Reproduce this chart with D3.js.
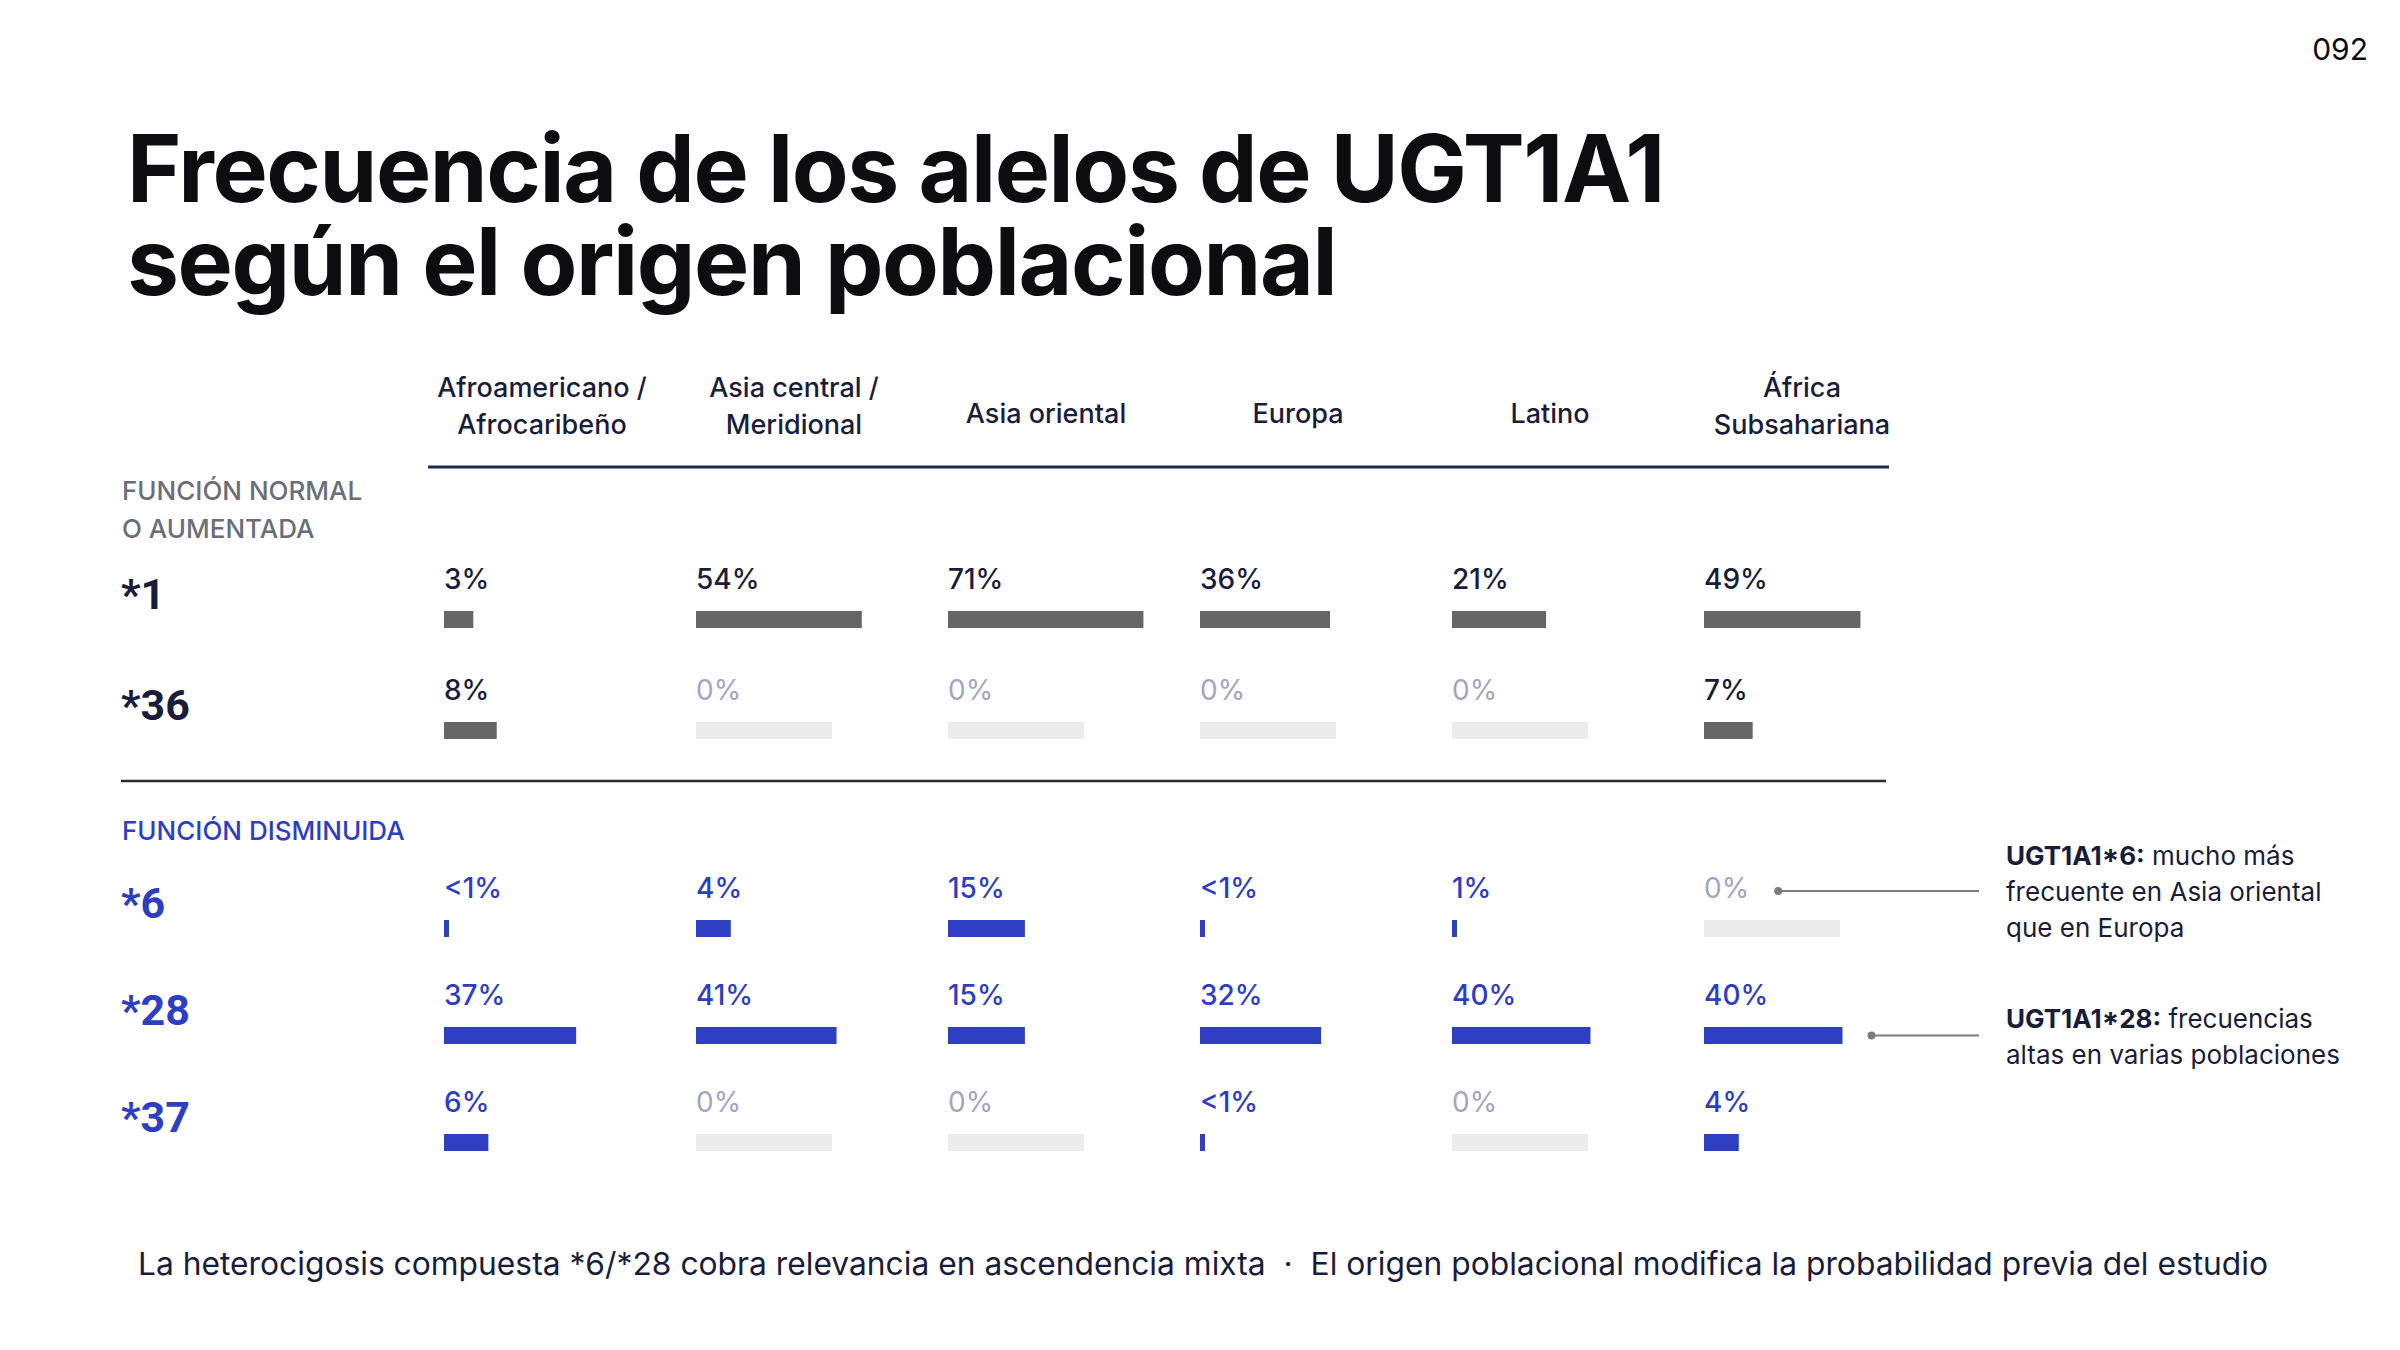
<!DOCTYPE html>
<html><head><meta charset="utf-8">
<script src="https://cdn.jsdelivr.net/npm/d3@7"></script>
<style>
html,body{margin:0;padding:0;background:#fff;}
svg{display:block;font-family:Inter,"Noto Sans",sans-serif;}
</style></head>
<body>
<svg id="c" width="2400" height="1350"></svg>
<script>
// ---------- DATA ----------
const pageNumber = "092";
const titleLines = ["Frecuencia de los alelos de UGT1A1", "según el origen poblacional"];
const populations = ["Afroamericano / Afrocaribeño", "Asia central / Meridional", "Asia oriental", "Europa", "Latino", "África Subsahariana"];
const populationHeaderLines = [["Afroamericano /", "Afrocaribeño"], ["Asia central /", "Meridional"], ["Asia oriental"], ["Europa"], ["Latino"], ["África", "Subsahariana"]];
const groupNormalTitle = ["FUNCIÓN NORMAL", "O AUMENTADA"];
const groupDecreasedTitle = ["FUNCIÓN DISMINUIDA"];
const normalAlleles = ["*1", "*36"];
const decreasedAlleles = ["*6", "*28", "*37"];
// frequencies (%) per population, order as `populations`; 0.5 means "<1%"
const freqStar1  = [3, 54, 71, 36, 21, 49];
const freqStar36 = [8, 0, 0, 0, 0, 7];
const freqStar6  = [0.5, 4, 15, 0.5, 1, 0];
const freqStar28 = [37, 41, 15, 32, 40, 40];
const freqStar37 = [6, 0, 0, 0.5, 0, 4];
const annotationAlleles = ["*6", "*28"];
const annotationBold = ["UGT1A1*6:", "UGT1A1*28:"];
const annotationText = [[" mucho más", "frecuente en Asia oriental", "que en Europa"], [" frecuencias", "altas en varias poblaciones"]];
const footnote = "La heterocigosis compuesta *6/*28 cobra relevancia en ascendencia mixta  ·  El origen poblacional modifica la probabilidad previa del estudio";

// ---------- BUILD ----------
const freqByAllele = {"*1": freqStar1, "*36": freqStar36, "*6": freqStar6, "*28": freqStar28, "*37": freqStar37};

const C = {
  ink: "#0d0d0f", navy: "#1a1d3a", gray: "#6b6e78", blue: "#2d3ec2",
  barGray: "#666666", barBlue: "#2f3fc4", track: "#ececec", zero: "#a3a5c2", leader: "#7c7c7c"
};

const svg = d3.select("#c");

// page number
svg.append("text").attr("x", 2368).attr("y", 49).attr("text-anchor", "end")
  .attr("dominant-baseline", "central").attr("font-size", 30).attr("font-weight", 400)
  .attr("fill", C.ink).text(pageNumber);

function fitWidth(sel, w) {
  const n = sel.node(); const cur = n.getComputedTextLength();
  const fs = parseFloat(sel.attr("font-size"));
  sel.attr("font-size", fs * w / cur);
}

// title (one text element, two lines)
const title = svg.append("text").attr("x", 127).attr("y", 202).attr("font-size", 92)
  .attr("font-weight", 700).attr("fill", C.ink).attr("letter-spacing", "-0.015em");
const tl1 = title.append("tspan").attr("x", 127).attr("y", 202).text(titleLines[0]);
const len1 = tl1.node().getComputedTextLength();
title.attr("font-size", 92 * 1537 / len1);
title.append("tspan").attr("x", 127).attr("y", 295).text(titleLines[1]);

// column scale
const x = d3.scaleBand().domain(populations).range([432, 1944]);
const barOffset = 12, headerOffset = 110;
const w = d3.scalePow().exponent(0.6).domain([0, 100]).range([0, 240]);
const traceW = 5, barH = 17;
const trackW = x.step() * 0.54;

// headers
const hdr = svg.append("g");
populations.forEach((p, i) => {
  const lines = populationHeaderLines[i];
  const cx = x(p) + headerOffset;
  lines.forEach((ln, j) => {
    const y = lines.length === 1 ? 413 : 387 + j * 37;
    hdr.append("text").attr("x", cx).attr("y", y).attr("text-anchor", "middle")
      .attr("dominant-baseline", "central").attr("font-size", 27).attr("font-weight", 500)
      .attr("fill", C.navy).text(ln);
  });
});
svg.append("line").attr("x1", 428).attr("x2", 1889).attr("y1", 467).attr("y2", 467)
  .attr("stroke", "#1d2a44").attr("stroke-width", 3);

// group titles
groupNormalTitle.forEach((ln, j) => svg.append("text").attr("x", 122).attr("y", 490 + j * 38)
  .attr("dominant-baseline", "central").attr("font-size", 26).attr("font-weight", 500)
  .attr("fill", C.gray).text(ln));
groupDecreasedTitle.forEach((ln, j) => svg.append("text").attr("x", 122).attr("y", 830 + j * 38)
  .attr("dominant-baseline", "central").attr("font-size", 26).attr("font-weight", 500)
  .attr("fill", C.blue).text(ln));

// divider
svg.append("line").attr("x1", 121).attr("x2", 1886).attr("y1", 781).attr("y2", 781)
  .attr("stroke", "#2b2b2b").attr("stroke-width", 2.5);

// row scales
const yNormal = d3.scalePoint().domain(normalAlleles).range([579, 690]);
const yDecreased = d3.scalePoint().domain(decreasedAlleles).range([888, 1102]);

const fmt = v => v === 0 ? "0%" : (v < 1 ? "<1%" : v + "%");
const anchors = {};

function drawGroup(alleles, yScale, labelColor, valueColor, barColor) {
  alleles.forEach(a => {
    const y0 = yScale(a);
    svg.append("text").attr("x", 121).attr("y", y0 + 15).attr("dominant-baseline", "central")
      .attr("font-family", "Roboto, Inter, sans-serif")
      .attr("font-size", 43).attr("font-weight", 700).attr("fill", labelColor).text(a);
    const vals = freqByAllele[a];
    const g = svg.append("g");
    let lastRight = null;
    populations.forEach((p, i) => {
      const v = vals[i];
      const bx = x(p) + barOffset;
      const lab = g.append("text").attr("x", bx).attr("y", y0).attr("dominant-baseline", "central")
        .attr("font-size", 28).attr("font-weight", v === 0 ? 400 : 500)
        .attr("fill", v === 0 ? C.zero : valueColor).text(fmt(v));
      const by = y0 + 32;
      const bw = v === 0 ? trackW : (v <= 1 ? traceW : w(v));
      g.append("rect").attr("x", bx).attr("y", by).attr("width", bw).attr("height", barH)
        .attr("fill", v === 0 ? C.track : barColor);
      if (i === populations.length - 1) {
        const labEnd = bx + lab.node().getComputedTextLength();
        const barEnd = v === 0 ? -Infinity : bx + bw;
        lastRight = barEnd > labEnd ? {x: barEnd, y: by + barH / 2} : {x: labEnd, y: y0 + 3};
      }
    });
    anchors[a] = lastRight;
  });
}
drawGroup(normalAlleles, yNormal, C.navy, C.navy, C.barGray);
drawGroup(decreasedAlleles, yDecreased, C.blue, C.blue, C.barBlue);

// annotations
annotationAlleles.forEach((a, k) => {
  const an = anchors[a];
  const sx = an.x + 29, ex = 1979, y = an.y;
  svg.append("line").attr("x1", sx).attr("x2", ex).attr("y1", y).attr("y2", y)
    .attr("stroke", C.leader).attr("stroke-width", 2);
  svg.append("circle").attr("cx", sx).attr("cy", y).attr("r", 4).attr("fill", C.leader);
  const lines = annotationText[k];
  const top = y - (lines.length - 1) * 36 / 2;
  lines.forEach((ln, j) => {
    const t = svg.append("text").attr("x", 2006).attr("y", top + j * 36)
      .attr("dominant-baseline", "central").attr("font-size", 26).attr("font-weight", 400)
      .attr("fill", C.navy);
    if (j === 0) {
      t.append("tspan").attr("font-weight", 700).text(annotationBold[k]);
    }
    t.append("tspan").text(ln);
  });
});

// footnote
const fn = svg.append("text").attr("x", 1203).attr("y", 1263).attr("text-anchor", "middle")
  .attr("dominant-baseline", "central").attr("font-size", 31).attr("font-weight", 400)
  .attr("fill", C.navy).style("white-space", "pre").text(footnote);
fitWidth(fn, 2131);
</script>
</body></html>
